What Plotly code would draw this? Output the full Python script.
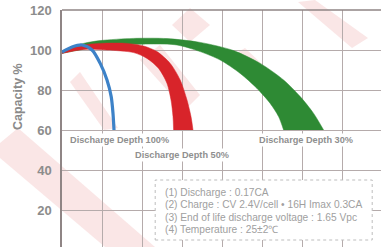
import plotly.graph_objects as go

# ---------------- data ----------------
y_ticks = [20, 40, 60, 80, 100, 120]
y_tick_labels = ["20", "40", "60", "80", "100", "120"]

# Discharge depth 100% (single line)
dod100_x = [0, 50, 100, 150, 191, 225, 246, 255, 260]
dod100_y = [99, 101.5, 102.5, 100, 93.3, 85, 76.7, 68.3, 60]

# Discharge depth 50% (band: outer and inner edge)
dod50_outer_x = [0, 108, 191, 325, 408, 475, 541, 591, 625, 645, 655]
dod50_outer_y = [99.2, 102.5, 103.3, 103.3, 102, 99.2, 93.3, 85, 75, 66.7, 60]
dod50_inner_x = [0, 108, 225, 358, 425, 483, 525, 545, 555, 558]
dod50_inner_y = [98.3, 100.3, 100, 98.7, 95.8, 90.8, 83.3, 75, 66.7, 60]

# Discharge depth 30% (band: outer and inner edge)
dod30_outer_x = [0, 108, 191, 358, 525, 691, 858, 991, 1108, 1191, 1258, 1308]
dod30_outer_y = [99.5, 103.3, 104.7, 105.8, 105.7, 103.8, 99.7, 93.3, 85, 76.7, 68.3, 60]
dod30_inner_x = [0, 191, 441, 575, 691, 791, 891, 975, 1041, 1083, 1108]
dod30_inner_y = [98.3, 101.7, 103, 102.5, 99.2, 95, 88.3, 80.8, 73.3, 66.7, 60]

labels = ["Discharge Depth 100%", "Discharge Depth 50%", "Discharge Depth 30%"]
label_x = [286, 601, 1221]
label_y = [55, 47.5, 55]

notes = [
    "(1) Discharge : 0.17CA",
    "(2) Charge : CV 2.4V/cell \u2022 16H Imax 0.3CA",
    "(3) End of life discharge voltage : 1.65 Vpc",
    "(4) Temperature : 25\u00b12\u2103",
]

# ---------------- figure ----------------
W, H = 381, 247
ML, MT = 62, 10
PW, PH = W - ML, H - MT
FONT = "Liberation Sans, Arial"

fig = go.Figure()

def add_band(ox, oy, ix, iy, color):
    fig.add_trace(go.Scatter(x=ix, y=iy, mode="lines",
                             line=dict(color=color, width=0.5, shape="spline", smoothing=0.8),
                             hoverinfo="skip", showlegend=False))
    fig.add_trace(go.Scatter(x=ox, y=oy, mode="lines", fill="tonexty", fillcolor=color,
                             line=dict(color=color, width=0.5, shape="spline", smoothing=0.8),
                             hoverinfo="skip", showlegend=False))

add_band(dod30_outer_x, dod30_outer_y, dod30_inner_x, dod30_inner_y, "#2e8a34")
add_band(dod50_outer_x, dod50_outer_y, dod50_inner_x, dod50_inner_y, "#d8242a")
fig.add_trace(go.Scatter(x=dod100_x, y=dod100_y, mode="lines",
                         line=dict(color="#3d82c8", width=3.2, shape="spline", smoothing=0.8),
                         hoverinfo="skip", showlegend=False))

# faint watermark-like diagonal bands (decoration, pixel coords -> paper)
def px2paper(px, py):
    return (px - ML) / PW, (H - py) / PH

def poly(pts):
    s = ""
    for i, (px, py) in enumerate(pts):
        x, y = px2paper(px, py)
        s += ("M" if i == 0 else "L") + f"{x:.4f},{y:.4f} "
    return s + "Z"

wm_color = "rgba(228,120,120,0.19)"
wm_polys = [
    [(0, 143), (18, 128), (155, 247), (105, 247), (0, 158)],
    [(70, 82), (80, 72), (118, 128), (104, 130)],
    [(140, 60), (160, 45), (200, 95), (185, 110)],
    [(172, 25), (190, 8), (210, 25), (190, 42)],
    [(228, 58), (245, 48), (300, 100), (285, 112)],
    [(298, 2), (315, 0), (368, 38), (352, 48)],
]
shapes = []
for p in wm_polys:
    shapes.append(dict(type="path", path=poly(p), xref="paper", yref="paper",
                       fillcolor=wm_color, line=dict(width=0), layer="below"))

# top frame line
shapes.append(dict(type="line", xref="paper", yref="paper", x0=0, x1=1, y0=1, y1=1,
                   line=dict(color="#8f8585", width=1.5), layer="above"))

# notes box
shapes.append(dict(type="rect", xref="x", yref="y", x0=466, x1=1551, y0=5, y1=35,
                   fillcolor="white", line=dict(color="#bdbdbd", width=1, dash="dot"),
                   layer="above"))

fig.update_layout(shapes=shapes)

for t, x, y in zip(labels, label_x, label_y):
    fig.add_annotation(x=x, y=y, xref="x", yref="y", text=t, showarrow=False,
                       font=dict(family=FONT, size=9.2, color="#8f8f8f", weight="bold"),
                       bgcolor="white", borderpad=1)

for i, t in enumerate(notes):
    fig.add_annotation(x=(163 - ML) / PW, y=(H - (192 + i * 12.5)) / PH, xref="paper", yref="paper",
                       xanchor="left", yanchor="middle", text=t, showarrow=False,
                       font=dict(family=FONT, size=10.2, color="#a0a0a0"))

fig.add_annotation(x=(18 - ML) / PW, y=(H - 97) / PH, xref="paper", yref="paper",
                   xanchor="center", yanchor="middle",
                   text="Capacity %", textangle=-90, showarrow=False,
                   font=dict(family=FONT, size=12.5, color="#8a8a8a", weight="bold"))

fig.update_xaxes(range=[0, 1595], showgrid=True, dtick=200, tick0=0, automargin=False,
                 gridcolor="#b5abab", gridwidth=1, showticklabels=False,
                 zeroline=False, showline=False, ticks="")
fig.update_yaxes(range=[1.5, 120], showgrid=True, tickvals=y_ticks, ticktext=y_tick_labels,
                 automargin=False,
                 gridcolor="#b5abab", gridwidth=1, zeroline=False,
                 showline=True, linecolor="#8f8585", linewidth=1.5,
                 ticks="", ticklabelstandoff=6,
                 tickfont=dict(family=FONT, size=13, color="#8c8c8c", weight="bold"))

fig.update_layout(width=W, height=H, margin=dict(l=ML, r=0, t=MT, b=0, pad=0, autoexpand=False),
                  plot_bgcolor="white", paper_bgcolor="white", showlegend=False)

fig.write_html("out.html", config={"displayModeBar": False},
               post_script="document.body.style.margin='0px';document.body.style.overflow='hidden';")
